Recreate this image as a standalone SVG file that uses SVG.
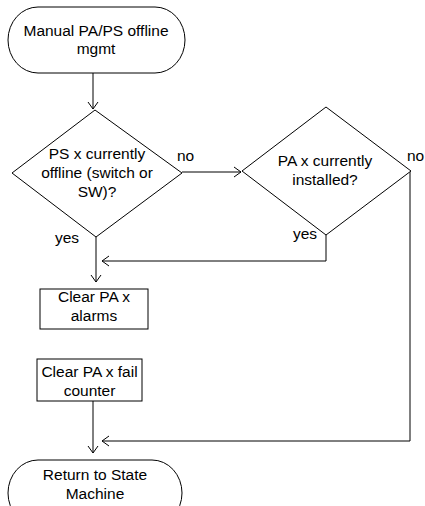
<svg xmlns="http://www.w3.org/2000/svg" width="425" height="506" viewBox="0 0 425 506">
  <style>
    .shape { fill: #fff; stroke: #000; stroke-width: 1; }
    .conn { fill: none; stroke: #000; stroke-width: 1; }
    text { font-family: "Liberation Sans", Arial, sans-serif; font-size: 15.5px; fill: #000; }
    .c { text-anchor: middle; }
  </style>
  <defs>
    <marker id="arrow" markerUnits="userSpaceOnUse" markerWidth="12" markerHeight="12" refX="0" refY="0" viewBox="-8 -6 10 12" orient="auto">
      <path d="M-7,-5 L0,0 L-7,5" fill="none" stroke="#000" stroke-width="1"/>
    </marker>
  </defs>
  <rect width="425" height="506" fill="#fff"/>

  <g id="connectors">
    <path class="conn" d="M93,73 V109" marker-end="url(#arrow)"/>
    <path class="conn" d="M182,172 H241" marker-end="url(#arrow)"/>
    <path class="conn" d="M96,237 V282" marker-end="url(#arrow)"/>
    <path class="conn" d="M326,235 V261 H102" marker-end="url(#arrow)"/>
    <path class="conn" d="M93,401 V453" marker-end="url(#arrow)"/>
    <path class="conn" d="M410,171 V441 H102" marker-end="url(#arrow)"/>
    <text x="177" y="161">no</text>
    <text x="55" y="243">yes</text>
    <text x="293" y="239">yes</text>
    <text x="407" y="161">no</text>
  </g>

  <g id="start">
    <rect class="shape" x="8" y="7" width="177" height="66" rx="30" ry="33"/>
    <text class="c" x="96" y="36">Manual PA/PS offline</text>
    <text class="c" x="96" y="54">mgmt</text>
  </g>

  <g id="ps-offline">
    <polygon class="shape" points="95,110 182,173 96,237 12,173"/>
    <text class="c" x="97" y="159">PS x currently</text>
    <text class="c" x="97" y="178">offline (switch or</text>
    <text class="c" x="97" y="197">SW)?</text>
  </g>

  <g id="pa-installed">
    <polygon class="shape" points="326,107 411,171 326,235 242,171"/>
    <text class="c" x="325" y="166">PA x currently</text>
    <text class="c" x="325" y="185">installed?</text>
  </g>

  <g id="clear-alarms">
    <rect class="shape" x="40" y="289" width="108" height="40"/>
    <text class="c" x="94" y="302">Clear PA x</text>
    <text class="c" x="94" y="321">alarms</text>
  </g>

  <g id="clear-fail-counter">
    <rect class="shape" x="37" y="359" width="105" height="42"/>
    <text class="c" x="89.5" y="377">Clear PA x fail</text>
    <text class="c" x="89.5" y="396">counter</text>
  </g>

  <g id="return">
    <rect class="shape" x="8" y="460" width="174" height="66" rx="30" ry="33"/>
    <text class="c" x="95" y="480">Return to State</text>
    <text class="c" x="95" y="499">Machine</text>
  </g>
</svg>
